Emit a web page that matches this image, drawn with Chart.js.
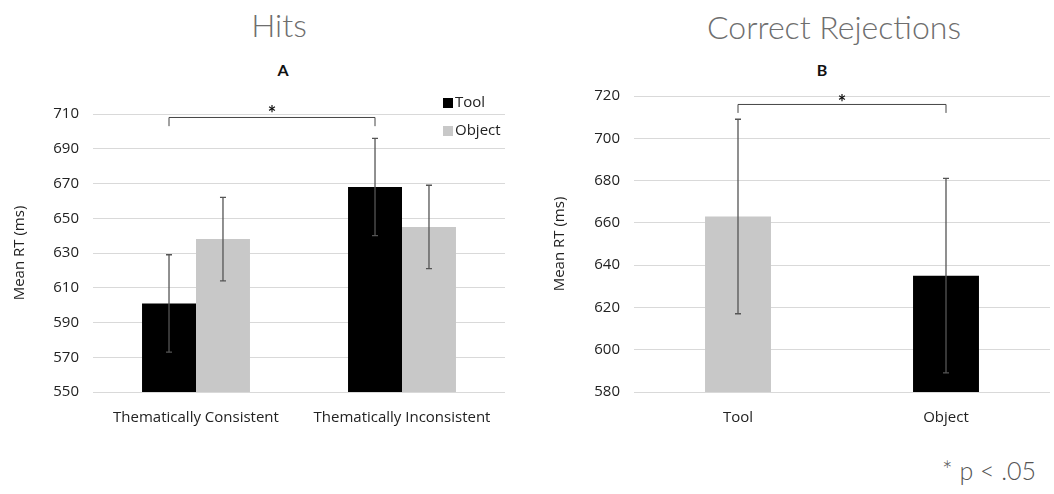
<!DOCTYPE html>
<html>
<head>
<meta charset="utf-8">
<script src="https://cdn.jsdelivr.net/npm/chart.js@4"></script>
<style>
  body { margin: 0; background: #fff; width: 1054px; height: 494px; position: relative; overflow: hidden; font-family: Lato, sans-serif; }
  .big { position: absolute; color: #6e6e6e; font-size: 32px; font-weight: 300; line-height: 40px; white-space: nowrap; transform: translateX(-50%); }
  .panel { position: absolute; color: #111; font-size: 16px; font-weight: bold; line-height: 20px; transform: translateX(-50%); }
  #wrapA { position: absolute; left: 0; top: 0; width: 527px; height: 430px; }
  #wrapB { position: absolute; left: 540px; top: 0; width: 514px; height: 430px; }
  #pnote { position: absolute; left: 942px; top: 455px; color: #555; font-size: 25px; font-weight: 300; line-height: 30px; white-space: nowrap; }
</style>
</head>
<body>
<div class="big" style="left:279px;top:5px">Hits</div>
<div class="big" style="left:834px;top:7px">Correct Rejections</div>
<div class="panel" style="left:283px;top:60px">A</div>
<div class="panel" style="left:822px;top:60px">B</div>
<div id="wrapA"><canvas id="chartA"></canvas></div>
<div id="wrapB"><canvas id="chartB"></canvas></div>
<div id="pnote">* p &lt; .05</div>

<script>
// Hits (panel A)
const hitsCategories = ['Thematically Consistent', 'Thematically Inconsistent'];
const hitsTool = [601, 668];
const hitsToolErr = [28, 28];
const hitsObject = [638, 645];
const hitsObjectErr = [24, 24];
const hitsRange = [550, 710, 20];

// Correct Rejections (panel B)
const crCategories = ['Tool', 'Object'];
const crValues = [663, 635];
const crErr = [46, 46];
const crRange = [580, 720, 20];

const BLACK = '#000000';
const GREY = '#c8c8c8';
const tickFont = { family: 'Open Sans', size: 15 };

const errorBars = {
  id: 'errorBars',
  afterDatasetsDraw(chart) {
    const ctx = chart.ctx;
    const y = chart.scales.y;
    ctx.save();
    ctx.strokeStyle = '#555';
    ctx.lineWidth = 1.3;
    chart.data.datasets.forEach((ds, i) => {
      chart.getDatasetMeta(i).data.forEach((bar, j) => {
        const top = y.getPixelForValue(ds.data[j] + ds.err[j]);
        const bot = y.getPixelForValue(ds.data[j] - ds.err[j]);
        ctx.beginPath();
        ctx.moveTo(bar.x, top); ctx.lineTo(bar.x, bot);
        ctx.moveTo(bar.x - 3, top); ctx.lineTo(bar.x + 3, top);
        ctx.moveTo(bar.x - 3, bot); ctx.lineTo(bar.x + 3, bot);
        ctx.stroke();
      });
    });
    ctx.restore();
  }
};

// significance bracket between two bars
const bracket = {
  id: 'bracket',
  afterDatasetsDraw(chart, args, opts) {
    if (!opts.from) return;
    const ctx = chart.ctx;
    const y = chart.scales.y;
    const b1 = chart.getDatasetMeta(opts.from[0]).data[opts.from[1]];
    const b2 = chart.getDatasetMeta(opts.to[0]).data[opts.to[1]];
    const yTop = y.getPixelForValue(opts.level);
    const yEnd = y.getPixelForValue(opts.drop);
    ctx.save();
    ctx.strokeStyle = '#444';
    ctx.lineWidth = 1;
    ctx.beginPath();
    ctx.moveTo(b1.x, yEnd); ctx.lineTo(b1.x, yTop);
    ctx.lineTo(b2.x, yTop); ctx.lineTo(b2.x, yEnd);
    ctx.stroke();
    ctx.fillStyle = '#111';
    ctx.font = 'bold 20px Lato';
    ctx.textAlign = 'center';
    ctx.textBaseline = 'alphabetic';
    ctx.fillText('*', (b1.x + b2.x) / 2, yTop + opts.shift);
    ctx.restore();
  }
};

// legend drawn inside the top right of the plot
const cornerLegend = {
  id: 'cornerLegend',
  afterDraw(chart, args, opts) {
    if (!opts.show) return;
    const ctx = chart.ctx;
    const x = chart.chartArea.right - 62;
    ctx.save();
    ctx.font = '15px "Open Sans"';
    ctx.textBaseline = 'middle';
    chart.data.datasets.forEach((ds, i) => {
      const cy = 103 + i * 28;
      ctx.fillStyle = ds.backgroundColor;
      ctx.fillRect(x, cy - 5, 10, 10);
      ctx.fillStyle = '#222';
      ctx.fillText(ds.label, x + 12, cy);
    });
    ctx.restore();
  }
};

function baseScales(range, leftW, bottomH) {
  return {
    x: {
      grid: { display: false },
      border: { display: false },
      ticks: { color: '#222', font: tickFont, padding: 9, maxRotation: 0 },
      afterFit(s) { s.height = bottomH; }
    },
    y: {
      min: range[0], max: range[1],
      grid: { color: '#d9d9d9', drawTicks: false },
      border: { display: false },
      ticks: { stepSize: range[2], color: '#222', font: tickFont, padding: 14 },
      title: { display: true, text: 'Mean RT (ms)', color: '#222', font: { family: 'Open Sans', size: 15 }, padding: { top: 11, bottom: 0 } },
      afterFit(s) { s.width = leftW; }
    }
  };
}

new Chart(document.getElementById('chartA'), {
  type: 'bar',
  data: {
    labels: hitsCategories,
    datasets: [
      { label: 'Tool', data: hitsTool, err: hitsToolErr, backgroundColor: BLACK,
        categoryPercentage: 0.524, barPercentage: 1 },
      { label: 'Object', data: hitsObject, err: hitsObjectErr, backgroundColor: GREY,
        categoryPercentage: 0.524, barPercentage: 1 }
    ]
  },
  options: {
    responsive: true, maintainAspectRatio: false, animation: false,
    layout: { padding: { top: 114, right: 22, left: 0, bottom: 0 } },
    plugins: {
      legend: { display: false }, tooltip: { enabled: false },
      bracket: { from: [0, 0], to: [0, 1], level: 708, drop: 703, shift: 4 },
      cornerLegend: { show: true }
    },
    scales: baseScales(hitsRange, 93, 38)
  },
  plugins: [errorBars, bracket, cornerLegend]
});

new Chart(document.getElementById('chartB'), {
  type: 'bar',
  data: {
    labels: crCategories,
    datasets: [
      { label: 'Mean RT', data: crValues, err: crErr, backgroundColor: [GREY, BLACK],
        categoryPercentage: 0.317, barPercentage: 1 }
    ]
  },
  options: {
    responsive: true, maintainAspectRatio: false, animation: false,
    layout: { padding: { top: 96, right: 4, left: 0, bottom: 0 } },
    plugins: {
      legend: { display: false }, tooltip: { enabled: false },
      bracket: { from: [0, 0], to: [0, 1], level: 716, drop: 712, shift: 6 },
      cornerLegend: { show: false }
    },
    scales: baseScales(crRange, 94, 38)
  },
  plugins: [errorBars, bracket, cornerLegend]
});
</script>
</body>
</html>
